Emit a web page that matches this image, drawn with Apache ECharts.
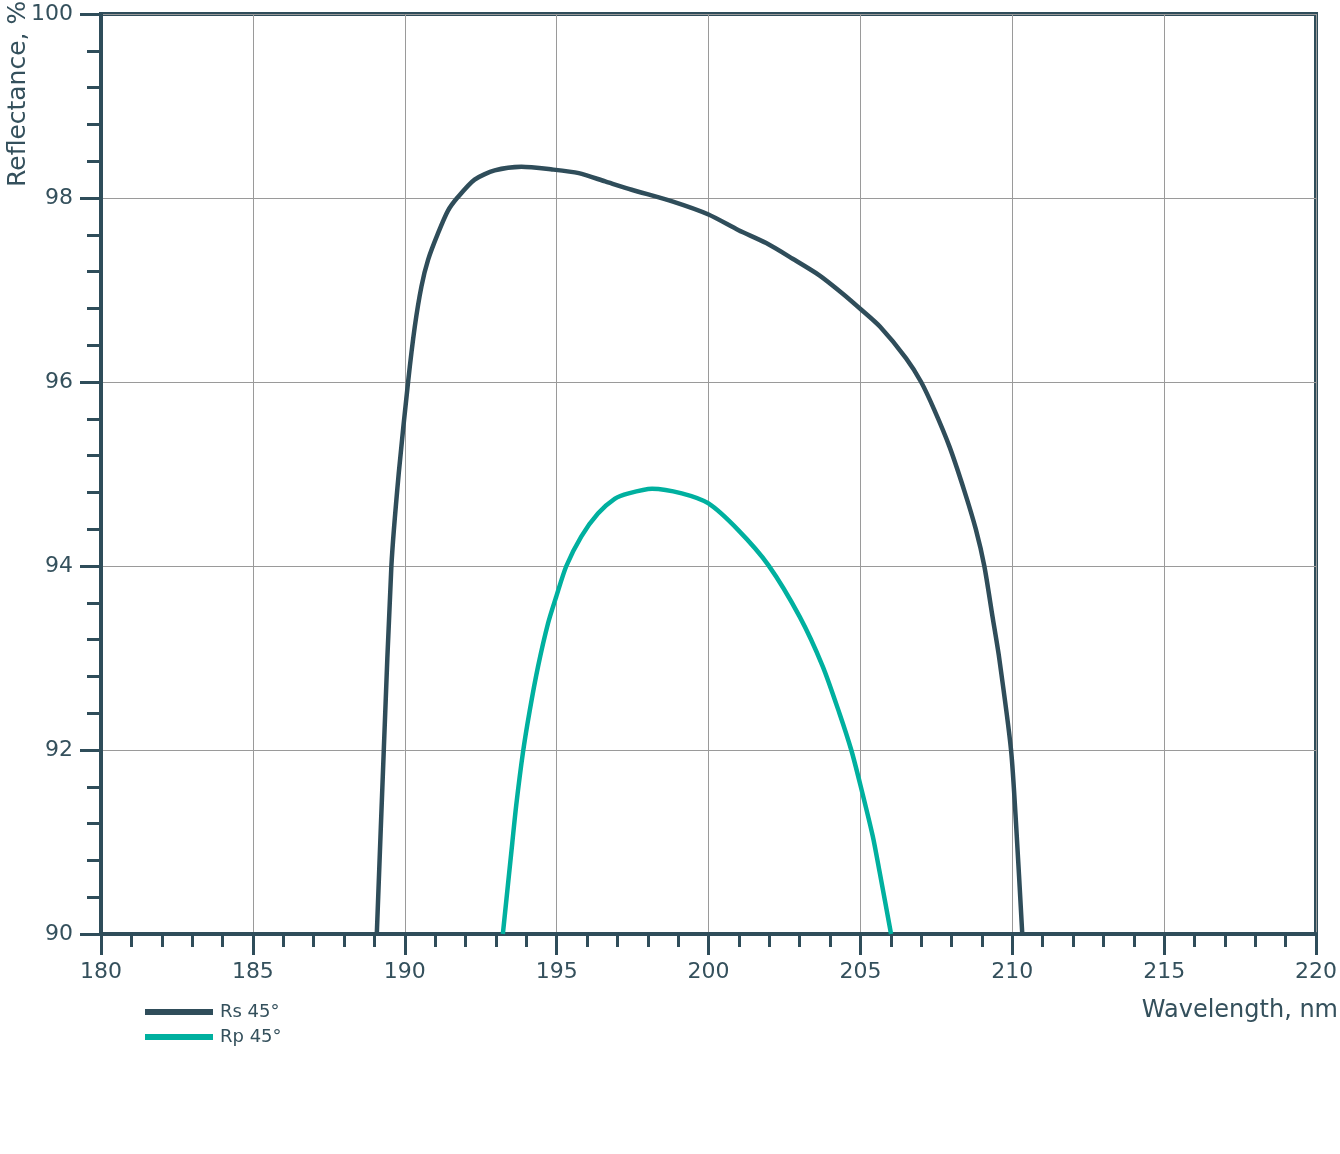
<!DOCTYPE html>
<html>
<head>
<meta charset="utf-8">
<script src="https://cdn.jsdelivr.net/npm/echarts@6/dist/echarts.min.js"></script>
<style>
  html, body { margin: 0; padding: 0; background: #fff; }
  #chart { width: 1340px; height: 1154px; }
</style>
</head>
<body>
<div id="chart"></div>
<script>
  // Rs 45 deg curve, wavelength (nm) and reflectance (%)
  var rsWave = [189.08, 189.31, 189.56, 189.8, 190.11, 190.33, 190.55, 190.77, 191.1, 191.42, 191.75, 192.3, 192.96, 193.84, 194.85, 195.73, 196.6, 197.47, 198.83, 200.0, 200.99, 201.9, 202.77, 203.65, 204.42, 205.05, 205.65, 206.5, 207.0, 207.43, 207.93, 208.42, 208.8, 209.08, 209.35, 209.57, 209.96, 210.13, 210.33]
  var rsValues = [90.0, 92.0, 94.0, 95.0, 96.0, 96.6, 97.04, 97.33, 97.62, 97.86, 98.01, 98.2, 98.3, 98.34, 98.31, 98.27, 98.18, 98.09, 97.96, 97.82, 97.65, 97.51, 97.34, 97.16, 96.96, 96.78, 96.6, 96.26, 96.0, 95.7, 95.3, 94.82, 94.4, 94.0, 93.45, 93.0, 92.0, 91.17, 90.0]

  // Rp 45 deg curve
  var rpWave = [193.23, 193.54, 193.67, 193.89, 194.11, 194.39, 194.72, 194.99, 195.32, 195.81, 196.36, 196.91, 197.37, 198.14, 199.12, 200.0, 200.98, 201.97, 203.0, 203.76, 204.31, 204.7, 205.0, 205.41, 205.63, 206.01]
  var rpValues = [90.0, 90.99, 91.4, 91.97, 92.42, 92.91, 93.38, 93.67, 94.0, 94.32, 94.57, 94.73, 94.79, 94.84, 94.79, 94.68, 94.39, 94.01, 93.45, 92.91, 92.4, 92.0, 91.62, 91.06, 90.68, 90.0]

  var seriesNames = ['Rs 45°', 'Rp 45°']
  var xTitle = 'Wavelength, nm'
  var yTitle = 'Reflectance, %'

  var dark = '#2f4d5a'
  var teal = '#00b09f'
  var textColor = '#34505c'
  var font = 'DejaVu Sans'

  function pairs (xs, ys) {
    var out = []
    for (var i = 0; i < xs.length; i++) {
      out.push([xs[i], ys[i]])
    }
    return out
  }

  var chart = echarts.init(document.getElementById('chart'))
  var option = {
    animation: false,
    textStyle: { fontFamily: font, color: textColor },
    grid: {
      left: 101,
      right: 21,
      top: 14,
      bottom: 220,
      show: true,
      borderColor: dark,
      borderWidth: 4
    },
    legend: {
      data: seriesNames,
      orient: 'vertical',
      left: 145,
      top: 1003,
      padding: 0,
      itemWidth: 68,
      itemHeight: 6,
      itemGap: 7,
      icon: 'rect',
      textStyle: { fontFamily: font, fontSize: 18, color: textColor, padding: [0, 0, 0, 2] }
    },
    xAxis: {
      type: 'value',
      min: 180,
      max: 220,
      interval: 5,
      axisLine: { lineStyle: { color: dark, width: 4 } },
      axisTick: { length: 21, lineStyle: { color: dark, width: 3 } },
      minorTick: { show: true, splitNumber: 5, length: 13, lineStyle: { color: dark, width: 3 } },
      splitLine: { show: true, lineStyle: { color: '#9a9a9a', width: 1 } },
      axisLabel: { margin: 27, fontSize: 22, color: textColor, fontFamily: font }
    },
    yAxis: {
      type: 'value',
      min: 90,
      max: 100,
      interval: 2,
      axisLine: { show: true, lineStyle: { color: dark, width: 4 } },
      axisTick: { show: true, length: 21, lineStyle: { color: dark, width: 3 } },
      minorTick: { show: true, splitNumber: 5, length: 14, lineStyle: { color: dark, width: 3 } },
      splitLine: { show: true, lineStyle: { color: '#9a9a9a', width: 1 } },
      axisLabel: { margin: 28, fontSize: 22, color: textColor, fontFamily: font }
    },
    graphic: [
      {
        type: 'text',
        right: 2,
        top: 999,
        style: { text: xTitle, fontSize: 24, fontFamily: font, fill: textColor }
      },
      {
        type: 'text',
        x: 6,
        y: 187,
        rotation: Math.PI / 2,
        style: { text: yTitle, fontSize: 25, fontFamily: font, fill: textColor, align: 'left', verticalAlign: 'top' }
      }
    ],
    series: [
      {
        name: seriesNames[0],
        type: 'line',
        data: pairs(rsWave, rsValues),
        smooth: 0.25,
        showSymbol: false,
        color: dark,
        lineStyle: { color: dark, width: 4.5 },
        z: 3
      },
      {
        name: seriesNames[1],
        type: 'line',
        data: pairs(rpWave, rpValues),
        smooth: 0.25,
        showSymbol: false,
        color: teal,
        lineStyle: { color: teal, width: 4.5 },
        z: 3
      }
    ]
  }
  chart.setOption(option)
</script>
</body>
</html>
